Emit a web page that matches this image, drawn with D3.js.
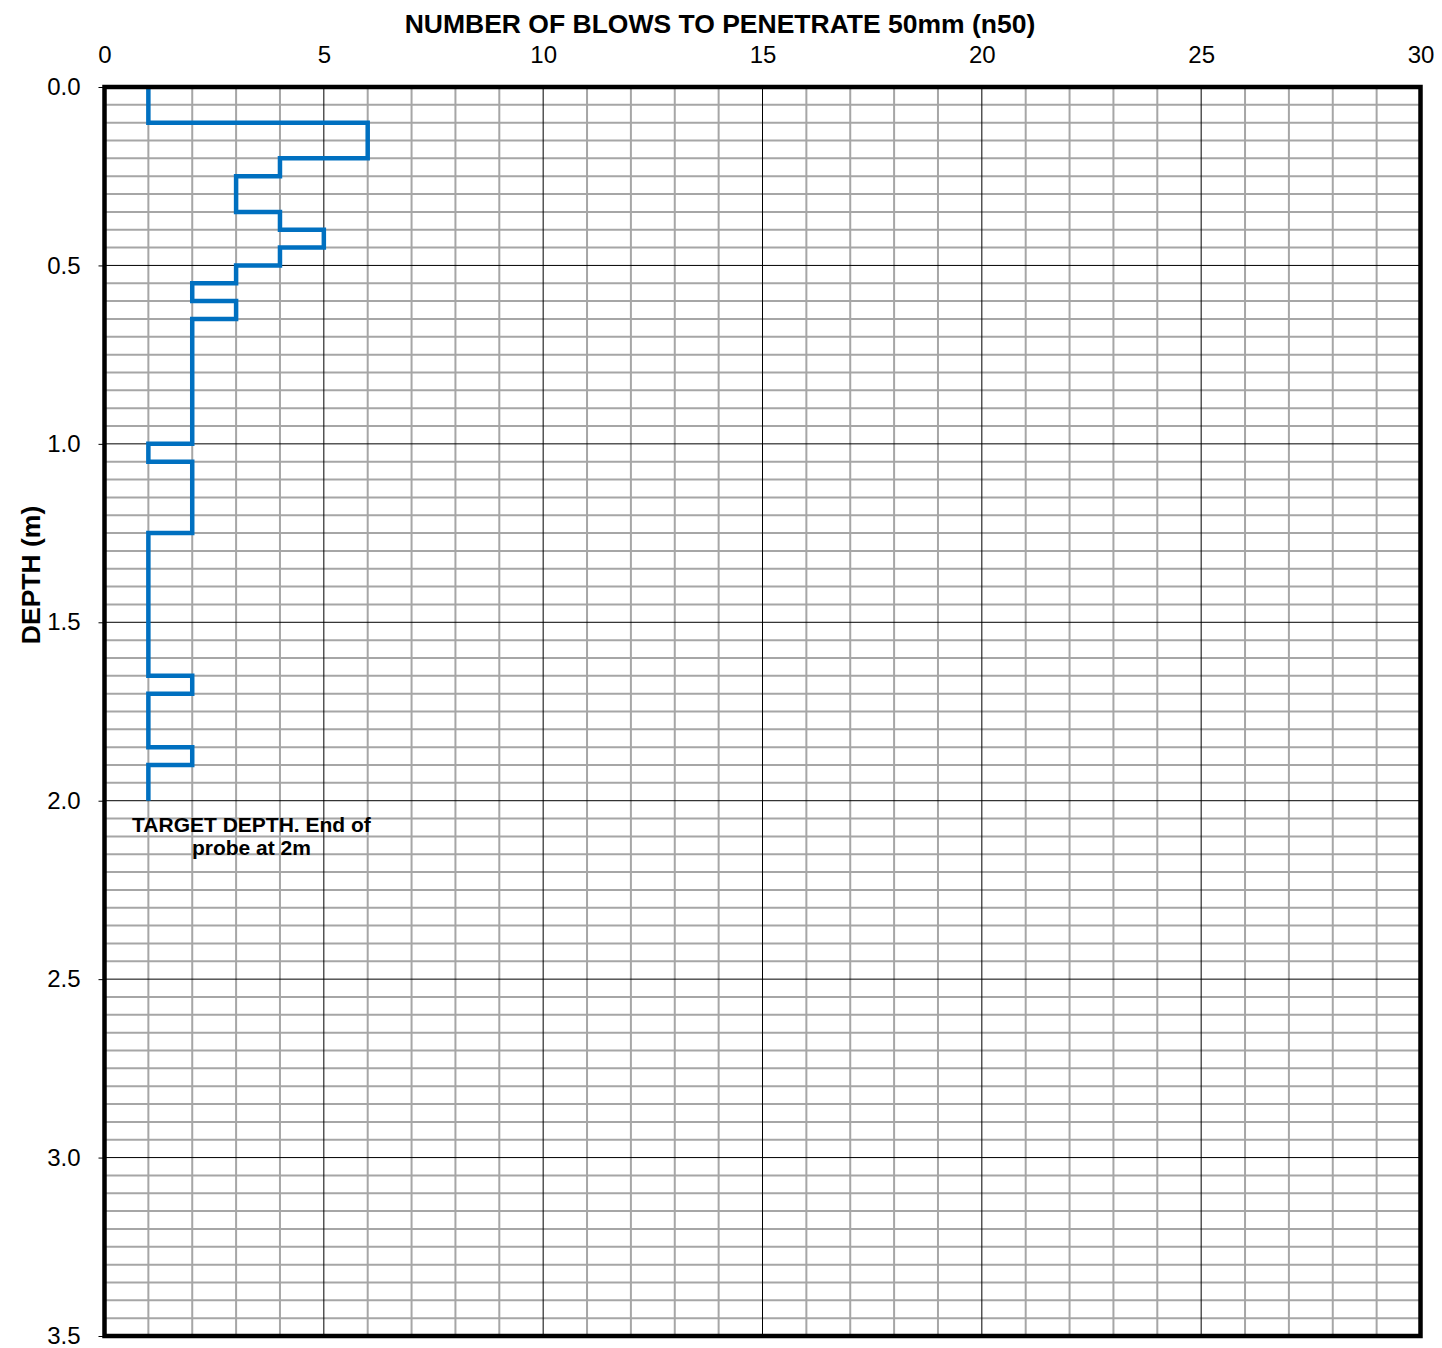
<!DOCTYPE html>
<html>
<head>
<meta charset="utf-8">
<script src="https://cdn.jsdelivr.net/npm/d3@7"></script>
<style>
  html, body { margin: 0; padding: 0; background: #fff; }
  svg { display: block; font-family: "Liberation Sans", Arial, sans-serif; }
</style>
</head>
<body>
<svg id="chart" width="1442" height="1348"></svg>
<script>
// Dynamic probe log: depth interval tops/bottoms (m) and blows per 50 mm
const depthTop    = [0.00, 0.10, 0.20, 0.25, 0.35, 0.40, 0.45, 0.50, 0.55, 0.60, 0.65, 1.00, 1.05, 1.25, 1.65, 1.70, 1.85, 1.90];
const depthBottom = [0.10, 0.20, 0.25, 0.35, 0.40, 0.45, 0.50, 0.55, 0.60, 0.65, 1.00, 1.05, 1.25, 1.65, 1.70, 1.85, 1.90, 2.00];
const blows       = [1,    6,    4,    3,    4,    5,    4,    3,    2,    3,    2,    1,    2,    1,    2,    1,    2,    1];

const xTicks = [0, 5, 10, 15, 20, 25, 30];
const yTicks = [0.0, 0.5, 1.0, 1.5, 2.0, 2.5, 3.0, 3.5];

const titleText = "NUMBER OF BLOWS TO PENETRATE 50mm (n50)";
const yTitleText = "DEPTH (m)";
const noteLines = ["TARGET DEPTH. End of", "probe at 2m"];
const noteDepth = 2.0;
const noteBlows = 3.35;

const svg = d3.select("#chart");
const plotLeft = 104.5, plotRight = 1420.5, plotTop = 87, plotBottom = 1336;

const x = d3.scaleLinear().domain([0, 30]).range([plotLeft, plotRight]);
const y = d3.scaleLinear().domain([0, 3.5]).range([plotTop, plotBottom]);

// minor grid: every blow, every 0.05 m
const minorX = d3.range(1, 30).filter(v => v % 5 !== 0);
const minorY = d3.range(1, 70).filter(i => i % 10 !== 0).map(i => i * 0.05);

const grid = svg.append("g");
grid.selectAll("line.mx").data(minorX).join("line")
  .attr("x1", d => x(d)).attr("x2", d => x(d))
  .attr("y1", plotTop).attr("y2", plotBottom)
  .attr("stroke", "#a6a6a6").attr("stroke-width", 2);
grid.selectAll("line.my").data(minorY).join("line")
  .attr("x1", plotLeft).attr("x2", plotRight)
  .attr("y1", d => y(d)).attr("y2", d => y(d))
  .attr("stroke", "#a6a6a6").attr("stroke-width", 2);

// major grid
grid.selectAll("line.Mx").data(xTicks.slice(1, -1)).join("line")
  .attr("x1", d => x(d)).attr("x2", d => x(d))
  .attr("y1", plotTop).attr("y2", plotBottom)
  .attr("stroke", "#000").attr("stroke-width", 1);
grid.selectAll("line.My").data(yTicks.slice(1, -1)).join("line")
  .attr("x1", plotLeft).attr("x2", plotRight)
  .attr("y1", d => y(d)).attr("y2", d => y(d))
  .attr("stroke", "#000").attr("stroke-width", 1);

// axes
const xAxis = d3.axisTop(x).tickValues(xTicks).tickSize(0).tickPadding(24).tickFormat(d3.format("d"));
svg.append("g").attr("transform", `translate(0,${plotTop})`).call(xAxis)
  .call(g => g.select(".domain").remove())
  .call(g => g.selectAll("text").attr("font-size", 24).attr("fill", "#000")
    .attr("font-family", "Liberation Sans, Arial, sans-serif"));

const yAxis = d3.axisLeft(y).tickValues(yTicks).tickSize(6).tickPadding(18).tickFormat(d3.format(".1f"));
svg.append("g").attr("transform", `translate(${plotLeft},0)`).call(yAxis)
  .call(g => g.select(".domain").remove())
  .call(g => g.selectAll("line").attr("stroke", "#000").attr("stroke-width", 1))
  .call(g => g.selectAll("text").attr("font-size", 24).attr("fill", "#000")
    .attr("font-family", "Liberation Sans, Arial, sans-serif"));

// step profile
const pts = [];
blows.forEach((b, i) => {
  pts.push([b, depthTop[i]]);
  pts.push([b, depthBottom[i]]);
});
const line = d3.line().x(d => x(d[0])).y(d => y(d[1]));
svg.append("path").datum(pts)
  .attr("d", line)
  .attr("fill", "none")
  .attr("stroke", "#0070c0")
  .attr("stroke-width", 4.5)
  .attr("stroke-linejoin", "miter")
  .attr("stroke-linecap", "butt");

// plot frame
svg.append("rect")
  .attr("x", plotLeft).attr("y", plotTop)
  .attr("width", plotRight - plotLeft).attr("height", plotBottom - plotTop)
  .attr("fill", "none").attr("stroke", "#000").attr("stroke-width", 4.5);

// titles
svg.append("text")
  .attr("x", 720).attr("y", 33)
  .attr("text-anchor", "middle")
  .attr("font-size", 26.5).attr("font-weight", "bold")
  .text(titleText);

svg.append("text")
  .attr("transform", `translate(40,575) rotate(-90)`)
  .attr("text-anchor", "middle")
  .attr("font-size", 26.5).attr("font-weight", "bold")
  .text(yTitleText);

// annotation below the end of the probe
const note = svg.append("text")
  .attr("text-anchor", "middle")
  .attr("font-size", 21).attr("font-weight", "bold");
noteLines.forEach((t, i) => {
  note.append("tspan")
    .attr("x", x(noteBlows))
    .attr("y", y(noteDepth) + 31 + i * 23)
    .text(t);
});
</script>
</body>
</html>
